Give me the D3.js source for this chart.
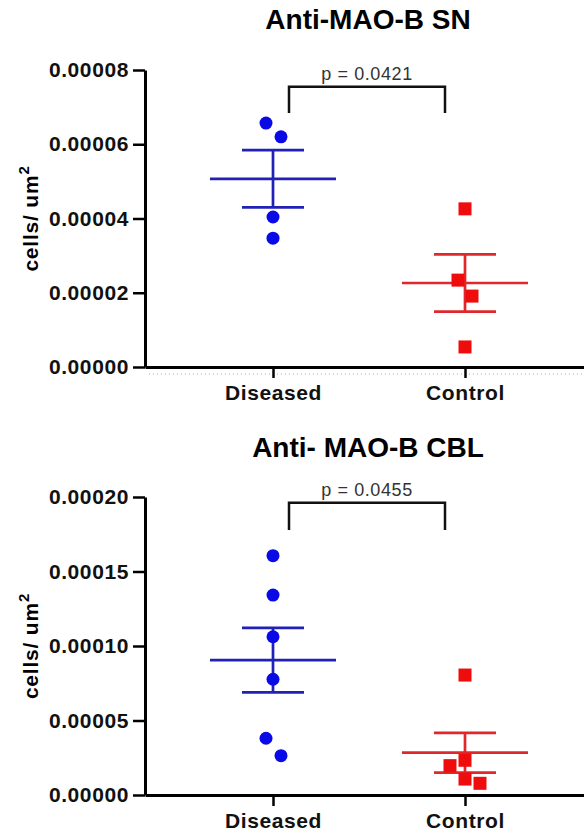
<!DOCTYPE html>
<html>
<head>
<meta charset="utf-8">
<script src="https://cdn.jsdelivr.net/npm/d3@7"></script>
<style>
body { margin: 0; background: #fff; }
text { font-family: "Liberation Sans", Arial, sans-serif; }
</style>
</head>
<body>
<div id="chart"></div>
<script>
var width = 584, height = 837;

var groups = ["Diseased", "Control"];
var titles = ["Anti-MAO-B SN", "Anti- MAO-B CBL"];
var pLabels = ["p = 0.0421", "p = 0.0455"];

// values (cells/um2)
var snDiseased = [6.57e-5, 6.20e-5, 4.04e-5, 3.47e-5];
var snControl = [4.26e-5, 2.34e-5, 1.91e-5, 0.54e-5];
var cblDiseased = [1.606e-4, 1.342e-4, 1.062e-4, 0.777e-4, 0.381e-4, 0.264e-4];
var cblControl = [0.805e-4, 0.233e-4, 0.197e-4, 0.107e-4, 0.0785e-4];

var snTicks = [0, 0.00002, 0.00004, 0.00006, 0.00008];
var cblTicks = [0, 0.00005, 0.00010, 0.00015, 0.00020];

// significance bracket: [top, leg end] in data units
var snBracket = [7.55e-5, 6.84e-5];
var cblBracket = [1.962e-4, 1.779e-4];

// horizontal scatter of points, px
var snJitter = [[-7, 8, 0, 0], [0, -7, 7, 0]];
var cblJitter = [[0, 0, 0, 0, -7, 8], [0, 0, -15, 0, 15]];

var panels = [
  {title: titles[0], p: pLabels[0], data: [snDiseased, snControl], ticks: snTicks, bracket: snBracket,
   jitter: snJitter, top: 70, bottom: 367, titleY: 29, dotted: true},
  {title: titles[1], p: pLabels[1], data: [cblDiseased, cblControl], ticks: cblTicks, bracket: cblBracket,
   jitter: cblJitter, top: 497, bottom: 795, titleY: 457, dotted: false}
];

var markColor = ["#0a0ae6", "#ee0c0c"];
var lineColor = ["#2121b8", "#e0282c"];

var svg = d3.select("#chart").append("svg")
  .attr("width", width)
  .attr("height", height);

var x = d3.scalePoint()
  .domain(groups)
  .range([145, 593])
  .padding(2 / 3);

panels.forEach(function(pn) {
  var g = svg.append("g");
  var y = d3.scaleLinear()
    .domain([0, d3.max(pn.ticks)])
    .range([pn.bottom, pn.top]);

  // title
  g.append("text")
    .attr("x", 368)
    .attr("y", pn.titleY)
    .attr("text-anchor", "middle")
    .style("font-size", "28px")
    .style("font-weight", "bold")
    .text(pn.title);

  // y label
  var yl = g.append("text")
    .attr("transform", "translate(38," + ((pn.top + pn.bottom) / 2) + ") rotate(-90)")
    .attr("text-anchor", "middle")
    .style("font-size", "21px")
    .style("font-weight", "bold")
    .style("letter-spacing", "0.8px");
  yl.append("tspan").text("cells/ um");
  yl.append("tspan").attr("dy", -9).style("font-size", "15px").text("2");

  // faint dotted line under the baseline
  if (pn.dotted) {
    g.append("line")
      .attr("x1", x.range()[0] + 4).attr("x2", width)
      .attr("y1", y(0) + 7).attr("y2", y(0) + 7)
      .attr("stroke", "#aaa")
      .attr("stroke-width", 1)
      .attr("stroke-dasharray", "1,3");
  }

  // axes
  var ya = g.append("g")
    .attr("transform", "translate(145,0)")
    .call(d3.axisLeft(y).tickValues(pn.ticks).tickFormat(d3.format(".5f"))
      .tickSize(12).tickSizeOuter(0).tickPadding(4));
  ya.select(".domain").attr("stroke-width", 3);
  ya.selectAll(".tick line").attr("stroke-width", 2.5);
  ya.selectAll(".tick text")
    .style("font-family", "'Liberation Sans', Arial, sans-serif")
    .style("font-size", "21px")
    .style("font-weight", "bold")
    .style("letter-spacing", "0.6px")
    .attr("fill", "#111");

  var xa = g.append("g")
    .attr("transform", "translate(0," + y(0) + ")")
    .call(d3.axisBottom(x).tickSize(11).tickSizeOuter(0).tickPadding(7));
  xa.select(".domain").attr("stroke-width", 3);
  xa.selectAll(".tick line").attr("stroke-width", 2.5);
  xa.selectAll(".tick text")
    .style("font-family", "'Liberation Sans', Arial, sans-serif")
    .style("font-size", "21px")
    .style("font-weight", "bold")
    .style("letter-spacing", "0.6px")
    .attr("fill", "#111");

  // mean and SEM
  pn.data.forEach(function(vals, i) {
    var cx = x(groups[i]);
    var m = d3.mean(vals);
    var sem = d3.deviation(vals) / Math.sqrt(vals.length);
    var lg = g.append("g")
      .attr("stroke", lineColor[i])
      .attr("stroke-width", 2.7);
    lg.append("line").attr("x1", cx - 63).attr("x2", cx + 63).attr("y1", y(m)).attr("y2", y(m));
    lg.append("line").attr("x1", cx).attr("x2", cx).attr("y1", y(m + sem)).attr("y2", y(m - sem));
    [m + sem, m - sem].forEach(function(v) {
      lg.append("line").attr("x1", cx - 31).attr("x2", cx + 31).attr("y1", y(v)).attr("y2", y(v));
    });
  });

  // points
  pn.data.forEach(function(vals, i) {
    var cx = x(groups[i]);
    if (i === 0) {
      g.selectAll(".dot").data(vals).enter().append("circle")
        .attr("cx", function(d, j) { return cx + pn.jitter[i][j]; })
        .attr("cy", function(d) { return y(d); })
        .attr("r", 6.5)
        .attr("fill", markColor[i]);
    } else {
      g.selectAll(".sq").data(vals).enter().append("rect")
        .attr("x", function(d, j) { return cx + pn.jitter[i][j] - 6.5; })
        .attr("y", function(d) { return y(d) - 6.5; })
        .attr("width", 13)
        .attr("height", 13)
        .attr("fill", markColor[i]);
    }
  });

  // significance bracket
  var bx1 = x(groups[0]) + 16, bx2 = x(groups[1]) - 20;
  g.append("path")
    .attr("d", "M" + bx1 + "," + y(pn.bracket[1]) + "V" + y(pn.bracket[0]) + "H" + bx2 + "V" + y(pn.bracket[1]))
    .attr("fill", "none")
    .attr("stroke", "#111")
    .attr("stroke-width", 2.5);
  g.append("text")
    .attr("x", (bx1 + bx2) / 2)
    .attr("y", y(pn.bracket[0]) - 7)
    .attr("text-anchor", "middle")
    .style("font-size", "18px")
    .style("letter-spacing", "0.6px")
    .attr("fill", "#333")
    .text(pn.p);
});
</script>
</body>
</html>
